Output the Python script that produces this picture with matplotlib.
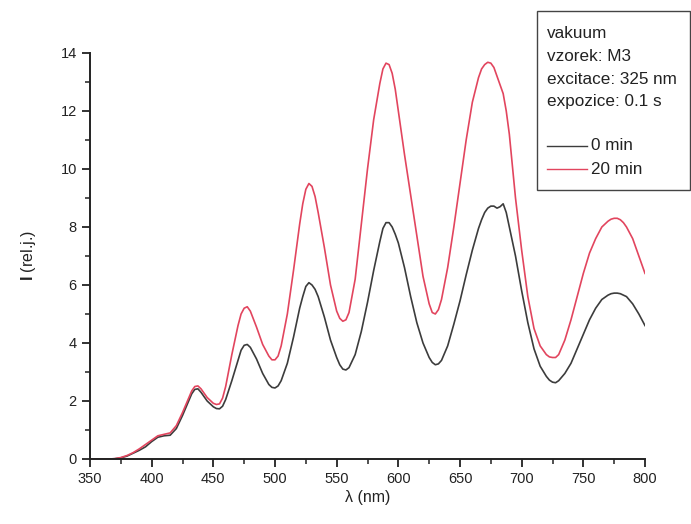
import numpy as np
import matplotlib
matplotlib.use("Agg")
import matplotlib.pyplot as plt
from matplotlib.ticker import MultipleLocator
from matplotlib.lines import Line2D
from matplotlib.patches import Rectangle

plt.rcParams['font.family'] = ['Liberation Sans', 'DejaVu Sans']
plt.rcParams['mathtext.fontset'] = 'custom'
plt.rcParams['mathtext.bf'] = 'Liberation Sans:bold'
plt.rcParams['mathtext.rm'] = 'Liberation Sans'

# wavelength grid (nm) and intensities
wavelength = [350, 355, 360, 365, 370, 375, 380, 385, 390, 395,
              400, 405, 410, 415, 420, 425, 430, 432.5, 435, 437.5,
              440, 445, 450, 452.5, 455, 457.5, 460, 465, 470, 472.5,
              475, 477.5, 480, 485, 490, 495, 497.5, 500, 502.5, 505,
              510, 515, 520, 522.5, 525, 527.5, 530, 532.5, 535, 540,
              545, 550, 552.5, 555, 557.5, 560, 565, 570, 575, 580,
              585, 587.5, 590, 592.5, 595, 597.5, 600, 605, 610, 615,
              620, 625, 627.5, 630, 632.5, 635, 640, 645, 650, 655,
              660, 665, 667.5, 670, 672.5, 675, 677.5, 680, 682.5, 685,
              687.5, 690, 695, 700, 705, 710, 715, 720, 722.5, 725,
              727.5, 730, 735, 740, 745, 750, 755, 760, 765, 770,
              772.5, 775, 777.5, 780, 782.5, 785, 790, 795, 800]

i_0min = [0.0, 0.0, 0.0, 0.0, 0.01, 0.04, 0.1, 0.2, 0.3, 0.42,
          0.6, 0.75, 0.8, 0.82, 1.05, 1.5, 2.0, 2.25, 2.4, 2.42,
          2.3, 2.0, 1.8, 1.74, 1.73, 1.82, 2.05, 2.7, 3.4, 3.75,
          3.92, 3.95, 3.85, 3.45, 2.95, 2.57, 2.47, 2.45, 2.52, 2.7,
          3.3, 4.2, 5.2, 5.6, 5.95, 6.08, 6.0, 5.85, 5.6, 4.9,
          4.1, 3.5, 3.25, 3.1, 3.07, 3.15, 3.6, 4.4, 5.4, 6.5,
          7.5, 7.95, 8.15, 8.15, 8.0, 7.75, 7.45, 6.6, 5.6, 4.7,
          4.0, 3.5, 3.33, 3.25, 3.28, 3.4, 3.9, 4.65, 5.45, 6.35,
          7.2, 7.95, 8.25, 8.5, 8.65, 8.72, 8.72, 8.65, 8.7, 8.8,
          8.5, 8.0, 7.0, 5.8, 4.7, 3.8, 3.2, 2.85, 2.72, 2.65,
          2.63, 2.7, 2.95, 3.3, 3.8, 4.3, 4.8, 5.2, 5.5, 5.65,
          5.7, 5.72, 5.72, 5.7, 5.65, 5.6, 5.35, 5.0, 4.6]

i_20min = [0.0, 0.0, 0.0, 0.0, 0.01, 0.05, 0.12, 0.22, 0.35, 0.5,
           0.65, 0.8, 0.85, 0.9, 1.15, 1.6, 2.1, 2.35, 2.5, 2.52,
           2.42, 2.12, 1.92, 1.88, 1.9, 2.1, 2.5, 3.6, 4.6, 5.0,
           5.2, 5.25, 5.1, 4.55, 3.95, 3.55, 3.42, 3.42, 3.55, 3.9,
           5.0, 6.5, 8.1, 8.8, 9.3, 9.5, 9.4, 9.05, 8.5, 7.3,
           6.0, 5.1, 4.85, 4.75, 4.8, 5.05, 6.2, 8.1, 10.0, 11.7,
           12.95, 13.45, 13.65, 13.6, 13.3, 12.75, 12.0, 10.5, 9.1, 7.7,
           6.3, 5.35, 5.05, 5.0, 5.15, 5.5, 6.6, 8.0, 9.5, 11.0,
           12.3, 13.15, 13.45, 13.6, 13.68, 13.65, 13.5, 13.2, 12.9, 12.6,
           12.0, 11.2, 9.0, 7.2, 5.6, 4.5, 3.9, 3.6, 3.52, 3.5,
           3.5, 3.6, 4.1, 4.8, 5.6, 6.4, 7.1, 7.6, 8.0, 8.2,
           8.27, 8.3, 8.3, 8.25, 8.15, 8.0, 7.6, 7.0, 6.4]

info_lines = ["vakuum", "vzorek: M3", "excitace: 325 nm", "expozice: 0.1 s"]
series_labels = ["0 min", "20 min"]
series_colors = ["#3c3c3c", "#e2455e"]

W, H = 691, 524
fig = plt.figure(figsize=(W / 100, H / 100), dpi=100)
ax = fig.add_axes([90 / W, 1 - 459 / H, 555 / W, 406 / H])

ax.plot(wavelength, i_0min, color=series_colors[0], lw=1.2, label=series_labels[0])
ax.plot(wavelength, i_20min, color=series_colors[1], lw=1.2, label=series_labels[1])

ax.set_xlim(350, 800)
ax.set_ylim(0, 14)
ax.xaxis.set_major_locator(MultipleLocator(50))
ax.xaxis.set_minor_locator(MultipleLocator(25))
ax.yaxis.set_major_locator(MultipleLocator(2))
ax.yaxis.set_minor_locator(MultipleLocator(1))
ax.spines['top'].set_visible(False)
ax.spines['right'].set_visible(False)
for s in ['left', 'bottom']:
    ax.spines[s].set_linewidth(1.4)
    ax.spines[s].set_color('#222222')
ax.tick_params(which='major', direction='out', length=6, width=1.3,
               labelsize=10.5, colors='#222222')
ax.tick_params(which='minor', direction='out', length=3.5, width=1.1, colors='#222222')

ax.set_xlabel("λ (nm)", fontsize=11.5, color='#222222', labelpad=3)
ax.set_ylabel(r"$\mathbf{I}$ (rel.j.)", fontsize=11.5, color='#222222', labelpad=16)

# info box with the legend, drawn in figure pixels
def fx(px):
    return px / W

def fy(py):
    return 1 - py / H

fig.patches.append(Rectangle((fx(537), fy(190)), fx(690) - fx(537), fy(11) - fy(190),
                             transform=fig.transFigure, facecolor='white',
                             edgecolor='#444444', lw=1.0))
text_y = [34, 56.5, 79, 101.5]
for line, y in zip(info_lines, text_y):
    fig.text(fx(547), fy(y), line, fontsize=12.3, color='#222222', va='center', ha='left')
for lab, col, y in zip(series_labels, series_colors, [146, 169]):
    fig.add_artist(Line2D([fx(547), fx(587)], [fy(y), fy(y)], transform=fig.transFigure,
                          color=col, lw=1.0))
    fig.text(fx(591), fy(y), lab, fontsize=12.3, color='#222222', va='center', ha='left')

fig.savefig("out.png", dpi=100)
